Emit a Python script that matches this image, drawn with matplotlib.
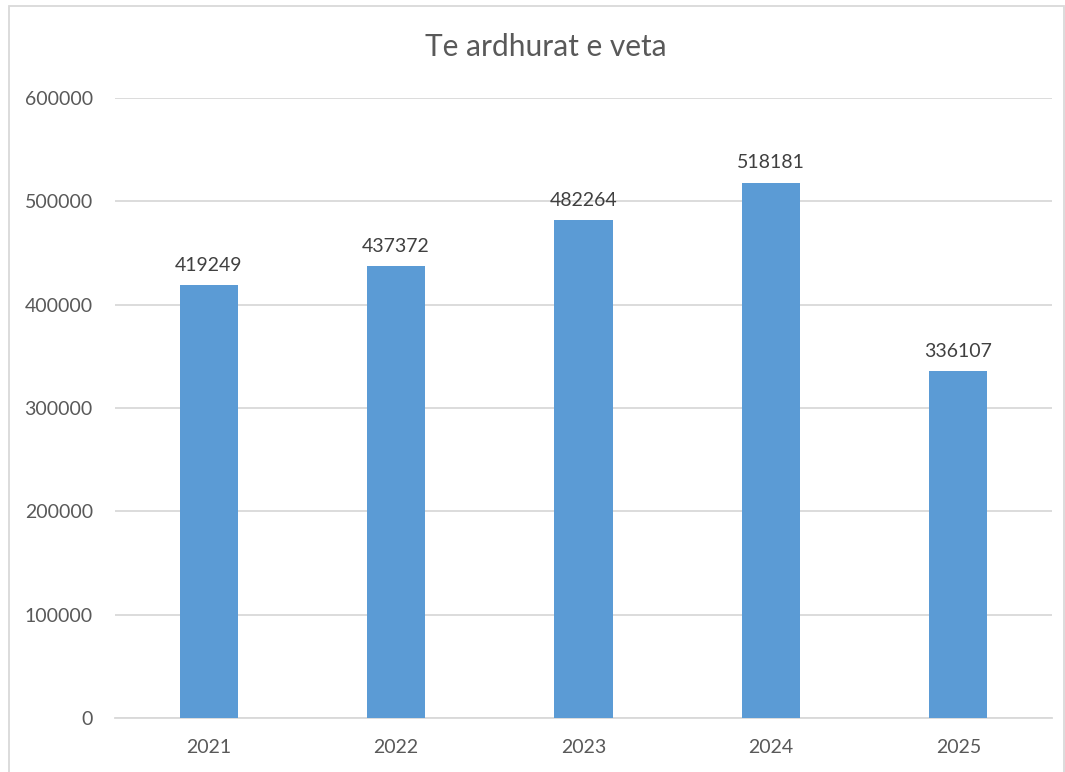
import matplotlib
matplotlib.use("Agg")
import matplotlib.pyplot as plt
from matplotlib.patches import Rectangle

years = ["2021", "2022", "2023", "2024", "2025"]
values = [419249, 437372, 482264, 518181, 336107]
yticks = [0, 100000, 200000, 300000, 400000, 500000, 600000]

plt.rcParams['font.family'] = ['Lato', 'DejaVu Sans']

W, H = 1065, 772
fig = plt.figure(figsize=(W/100, H/100), dpi=100)
ax = fig.add_axes([115/W, 1-718/H, (1052-115)/W, (718-98)/H])

x = range(len(years))
ax.bar(x, values, width=0.31, color="#5B9BD5", zorder=3)
ax.set_xlim(-0.5, len(years)-0.5)
ax.set_ylim(0, 600000)
ax.set_yticks(yticks)
ax.set_yticklabels([str(v) for v in yticks])
ax.set_xticks(list(x))
ax.set_xticklabels(years)
ax.grid(axis='y', color="#D9D9D9", linewidth=1.3, zorder=0)
for s in ['top', 'right', 'left']:
    ax.spines[s].set_visible(False)
ax.spines['bottom'].set_color("#D9D9D9")
ax.spines['bottom'].set_linewidth(1.3)
ax.tick_params(axis='both', length=0, labelsize=14, colors="#595959")
ax.tick_params(axis='y', pad=16)
ax.tick_params(axis='x', pad=15)

for xi, v in zip(x, values):
    ax.annotate(str(v), (xi, v), xytext=(0, 8), textcoords='offset points',
                ha='center', va='bottom', fontsize=14, color="#404040")

fig.text(546/W, 1-47/H, "Te ardhurat e veta", ha='center', va='center',
         fontsize=21.5, color="#595959")

fig.patches.append(Rectangle((8.5/W, -0.1), (1063.5-8.5)/W, 1-5.5/H+0.1,
                             transform=fig.transFigure, fill=False,
                             edgecolor="#D9D9D9", linewidth=1.3))

fig.savefig("out.png", dpi=100)
